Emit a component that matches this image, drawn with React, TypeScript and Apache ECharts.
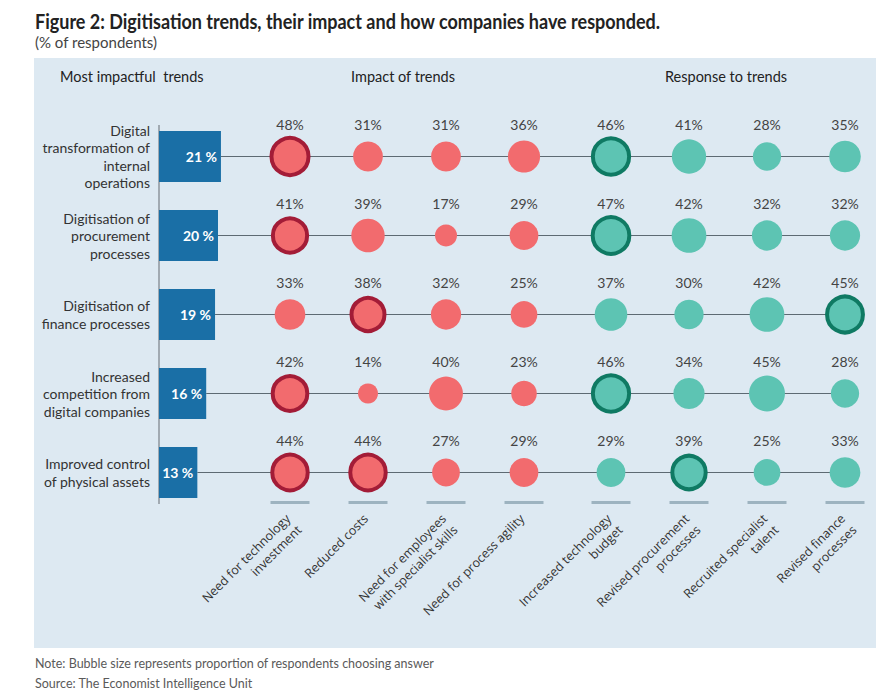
import React, { useEffect, useRef } from "react";
import * as echarts from "echarts";

const trends = [
  "Digital\ntransformation of\ninternal\noperations",
  "Digitisation of\nprocurement\nprocesses",
  "Digitisation of\nfinance processes",
  "Increased\ncompetition from\ndigital companies",
  "Improved control\nof physical assets",
];
const trendShares = [21, 20, 19, 16, 13];

const impactCategories = [
  "Need for technology\ninvestment",
  "Reduced costs",
  "Need for employees\nwith specialist skills",
  "Need for process agility",
];
const responseCategories = [
  "Increased technology\nbudget",
  "Revised procurement\nprocesses",
  "Recruited specialist\ntalent",
  "Revised finance\nprocesses",
];

// rows follow the trends order
const impactValues = [
  [48, 31, 31, 36],
  [41, 39, 17, 29],
  [33, 38, 32, 25],
  [42, 14, 40, 23],
  [44, 44, 27, 29],
];
const responseValues = [
  [46, 41, 28, 35],
  [47, 42, 32, 32],
  [37, 30, 42, 45],
  [46, 34, 45, 28],
  [29, 39, 25, 33],
];

const FONT = "Lato, 'Noto Sans', sans-serif";
const RED = "#f26b6e";
const RED_DARK = "#a31c37";
const TEAL = "#5dc4b3";
const TEAL_DARK = "#0f7a63";

function bubbleData(values: number[][], fill: string, border: string) {
  const out: any[] = [];
  values.forEach((row, r) => {
    const mx = Math.max(...row);
    row.forEach((v, c) => {
      const hi = v === mx;
      out.push({
        value: [c, r, v],
        itemStyle: hi
          ? { color: fill, borderColor: border, borderWidth: 4, opacity: 1 }
          : { color: fill, borderWidth: 0, opacity: 1 },
      });
    });
  });
  return out;
}

export default function App() {
  const ref = useRef<HTMLDivElement>(null);
  useEffect(() => {
    document.body.style.margin = "0";
    const chart = echarts.init(ref.current!, undefined, { renderer: "svg" });

    const rowTop = 117;
    const rowH = 395;

    const xCatAxis = (gridIndex: number, data: string[]) => ({
      type: "category",
      gridIndex,
      data,
      axisLine: { show: false },
      axisTick: { show: false },
      splitLine: { show: false },
      axisLabel: {
        interval: 0,
        rotate: 45,
        fontFamily: "'Open Sans', sans-serif",
        fontSize: 12.5,
        color: "#333",
        lineHeight: 16,
        verticalAlign: "top",
        padding: [0, 11, 0, 0],
        margin: -9,
      },
    });
    const yHidden = (gridIndex: number) => ({
      type: "category",
      gridIndex,
      data: trends,
      inverse: true,
      show: false,
    });

    const dashes = (xAxisIndex: number) => ({
      type: "custom",
      xAxisIndex,
      yAxisIndex: xAxisIndex,
      z: 1,
      silent: true,
      encode: { x: 0, y: 1 },
      data: [0, 1, 2, 3].map((c) => [c, trends.length - 1]),
      renderItem: (params: any, api: any) => {
        const p = api.coord([api.value(0), api.value(1)]);
        const band = api.size([0, 1])[1];
        return {
          type: "rect",
          shape: { x: p[0] - 19.5, y: p[1] + 0.38 * band - 1.5, width: 39, height: 3 },
          style: { fill: "#9db3c0" },
        };
      },
    });

    const bubbles = (xAxisIndex: number, values: number[][], fill: string, border: string) => ({
      type: "scatter",
      xAxisIndex,
      yAxisIndex: xAxisIndex,
      z: 4,
      data: bubbleData(values, fill, border),
      symbolSize: (val: number[]) => 5.35 * Math.sqrt(val[2]),
      itemStyle: { opacity: 1 },
      label: {
        show: true,
        position: "inside",
        offset: [0, -32],
        formatter: (p: any) => p.value[2] + "%",
        fontFamily: FONT,
        fontSize: 14,
        color: "#444",
      },
    });

    chart.setOption({
      animation: false,
      graphic: [
        {
          type: "rect",
          z: -100,
          shape: { x: 34, y: 58, width: 842, height: 590 },
          style: { fill: "#dde9f2" },
        },
        {
          type: "text",
          x: 35,
          y: 21,
          scaleX: 0.9,
          style: {
            text: "Figure 2: Digitisation trends, their impact and how companies have responded.",
            font: "bold 20px Lato, sans-serif",
            fill: "#222",
            verticalAlign: "middle",
          },
        },
        {
          type: "text",
          x: 35,
          y: 42,
          style: {
            text: "(% of respondents)",
            font: "15px " + FONT,
            fill: "#444",
            verticalAlign: "middle",
          },
        },
        {
          type: "text",
          x: 60,
          y: 76,
          style: { text: "Most impactful  trends", font: "14.5px " + FONT, fill: "#222", verticalAlign: "middle" },
        },
        {
          type: "text",
          x: 403,
          y: 76,
          style: { text: "Impact of trends", font: "14.5px " + FONT, fill: "#222", verticalAlign: "middle", align: "center" },
        },
        {
          type: "text",
          x: 726,
          y: 76,
          style: { text: "Response to trends", font: "14.5px " + FONT, fill: "#222", verticalAlign: "middle", align: "center" },
        },
        {
          type: "text",
          x: 35,
          y: 663,
          style: {
            text: "Note: Bubble size represents proportion of respondents choosing answer",
            font: "12.5px " + FONT,
            fill: "#5a5a5a",
            verticalAlign: "middle",
          },
        },
        {
          type: "text",
          x: 35,
          y: 683,
          style: {
            text: "Source: The Economist Intelligence Unit",
            font: "12.5px " + FONT,
            fill: "#5a5a5a",
            verticalAlign: "middle",
          },
        },
      ],
      grid: [
        { left: 159, top: rowTop, width: 686, height: rowH },
        { left: 251, top: rowTop, width: 312, height: rowH },
        { left: 572, top: rowTop, width: 312, height: rowH },
      ],
      xAxis: [
        { type: "value", gridIndex: 0, min: 0, max: 686 / 2.95, show: false },
        xCatAxis(1, impactCategories),
        xCatAxis(2, responseCategories),
      ],
      yAxis: [
        {
          type: "category",
          gridIndex: 0,
          data: trends,
          inverse: true,
          axisLine: { show: false },
          axisTick: { show: false },
          axisLabel: {
            fontFamily: FONT,
            fontSize: 14,
            lineHeight: 17.5,
            color: "#333",
            margin: 9,
          },
        },
        yHidden(1),
        yHidden(2),
      ],
      series: [
        {
          type: "custom",
          xAxisIndex: 0,
          yAxisIndex: 0,
          z: 0,
          silent: true,
          encode: { x: 0, y: 1 },
          data: [[0, 0]],
          renderItem: (params: any, api: any) => {
            const t = api.coord([0, 0]);
            const b = api.coord([0, trends.length - 1]);
            const band = api.size([0, 1])[1];
            return {
              type: "line",
              shape: { x1: t[0], y1: t[1] - 0.4 * band, x2: t[0], y2: b[1] + 0.4 * band },
              style: { stroke: "#8c959c", lineWidth: 1.5 },
            };
          },
        },
        {
          type: "custom",
          xAxisIndex: 0,
          yAxisIndex: 0,
          z: 1,
          silent: true,
          encode: { x: 0, y: 1 },
          data: trendShares.map((v, i) => [v, i]),
          renderItem: (params: any, api: any) => {
            const s = api.coord([api.value(0), api.value(1)]);
            const cs = params.coordSys;
            return {
              type: "line",
              shape: { x1: s[0], y1: s[1], x2: cs.x + cs.width, y2: s[1] },
              style: { stroke: "#5d6a73", lineWidth: 1.2 },
            };
          },
        },
        {
          type: "bar",
          xAxisIndex: 0,
          yAxisIndex: 0,
          z: 3,
          data: trendShares,
          barWidth: 51,
          itemStyle: { color: "#1a6fa6" },
          label: {
            show: true,
            position: "insideRight",
            distance: 4,
            formatter: "{c} %",
            fontFamily: FONT,
            fontWeight: "bold",
            fontSize: 14,
            color: "#fff",
          },
        },
        dashes(1),
        dashes(2),
        bubbles(1, impactValues, RED, RED_DARK),
        bubbles(2, responseValues, TEAL, TEAL_DARK),
      ],
    });
    return () => chart.dispose();
  }, []);
  return (
    <div
      ref={ref}
      style={{ position: "absolute", left: 0, top: 0, width: 888, height: 699 }}
    />
  );
}
